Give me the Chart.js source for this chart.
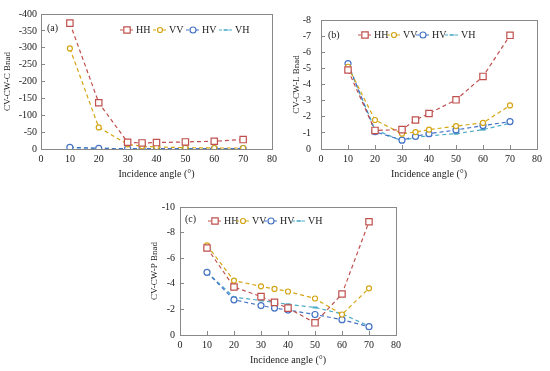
<!DOCTYPE html>
<html>
<head>
<meta charset="utf-8">
<script src="https://cdn.jsdelivr.net/npm/chart.js@4.4.0/dist/chart.umd.min.js"></script>
<style>
  body { margin: 0; background: #fff; width: 550px; height: 371px; position: relative; overflow: hidden; }
  canvas { position: absolute; }
</style>
</head>
<body>
<canvas id="chart-a" width="285" height="185" style="left:0;top:0"></canvas>
<canvas id="chart-b" width="270" height="185" style="left:280px;top:0"></canvas>
<canvas id="chart-c" width="270" height="186" style="left:140px;top:185px"></canvas>
<script>
// data
const angles = [10, 20, 30, 35, 40, 50, 60, 70]
const polarizations = ['HH', 'VV', 'HV', 'VH']
const xTicks = [0, 10, 20, 30, 40, 50, 60, 70, 80]

const cBandHH = [-373, -137, -20, -18, -19, -21, -23, -28]
const cBandVV = [-298, -64, -14, -8, -6, -4, -3, -3]
const cBandHV = [-5, -2, -1, -1, -1, -1, -1, -1]
const cBandVH = [-4, -2, -1, -1, -1, -1, -1, -1]

const lBandHH = [-4.9, -1.15, -1.2, -1.8, -2.2, -3.05, -4.5, -7.05]
const lBandVV = [-5.1, -1.8, -0.95, -1.05, -1.2, -1.42, -1.62, -2.7]
const lBandHV = [-5.3, -1.07, -0.55, -0.78, -0.95, -1.18, -1.45, -1.7]
const lBandVH = [-5.2, -1.2, -0.5, -0.72, -0.82, -0.95, -1.2, -1.6]

const pBandHH = [-6.8, -3.75, -3.0, -2.55, -2.1, -0.95, -3.2, -8.85]
const pBandVV = [-7.0, -4.25, -3.8, -3.6, -3.4, -2.85, -1.6, -3.65]
const pBandHV = [-4.9, -2.75, -2.3, -2.1, -1.95, -1.6, -1.2, -0.65]
const pBandVH = [-4.9, -2.95, -2.7, -2.55, -2.4, -2.15, -1.65, -0.7]

// styles
const serif = "'Liberation Serif', 'Times New Roman', serif"
const lineColors = ['#c0504d', '#d4a514', '#4472c4', '#4bacc6']
const markerStyles = ['rect', 'circle', 'circle', 'line']
const markerRadius = [4.5, 2.5, 3, 2.5]

// draws the box, the panel tag and the legend inside the plot area
const panelDecor = {
  id: 'panelDecor',
  afterDraw(chart, args, opts) {
    const { ctx, chartArea } = chart
    ctx.save()
    ctx.strokeStyle = '#888'
    ctx.lineWidth = 1
    ctx.strokeRect(Math.round(chartArea.left) + 0.5, Math.round(chartArea.top) + 0.5,
      Math.round(chartArea.right - chartArea.left), Math.round(chartArea.bottom - chartArea.top))

    ctx.font = `10px ${serif}`
    ctx.fillStyle = '#222'
    ctx.textBaseline = 'middle'
    ctx.fillText(opts.tag, chartArea.left + opts.tagX, chartArea.top + opts.tagY)

    chart.data.datasets.forEach((ds, i) => {
      const x = chartArea.left + opts.legendX + i * opts.legendStep
      const y = chartArea.top + opts.legendY
      ctx.strokeStyle = ds.borderColor
      ctx.lineWidth = 1.2
      ctx.setLineDash([3, 2])
      ctx.beginPath()
      ctx.moveTo(x, y)
      ctx.lineTo(x + 14, y)
      ctx.stroke()
      ctx.setLineDash([])
      ctx.fillStyle = '#fff'
      Chart.helpers.drawPoint(ctx, { pointStyle: ds.pointStyle, radius: ds.pointRadius, rotation: 0, borderWidth: ds.pointBorderWidth }, x + 7, y)
      ctx.fillStyle = '#222'
      ctx.fillText(ds.label, x + 16, y)
    })
    ctx.restore()
  },
}

printPanel('#chart-a', {
  series: [cBandHH, cBandVV, cBandHV, cBandVH],
  yTitle: 'CV-CW-C Bnad', yMin: -400, yStep: 50,
  left: 41, top: 8, right: 9, xHeight: 36, yTitlePad: 2, yTickPad: 8,
  tag: '(a)', tagX: 6, tagY: 14, legendX: 79, legendStep: 33, legendY: 16,
})
printPanel('#chart-b', {
  series: [lBandHH, lBandVV, lBandHV, lBandVH],
  yTitle: 'CV-CW-L Bnad', yMin: -8, yStep: 1,
  left: 41, top: 7, right: 8, xHeight: 36, yTitlePad: 11, yTickPad: 14,
  tag: '(b)', tagX: 7, tagY: 15, legendX: 37, legendStep: 29, legendY: 15,
})
printPanel('#chart-c', {
  series: [pBandHH, pBandVV, pBandHV, pBandVH],
  yTitle: 'CV-CW-P Bnad', yMin: -10, yStep: 2,
  left: 40, top: 22, right: 14, xHeight: 36, yTitlePad: 9, yTickPad: 9,
  tag: '(c)', tagX: 5, tagY: 12, legendX: 28, legendStep: 28, legendY: 14,
})

function printPanel(selector, cfg) {
  const ctx = document.querySelector(selector)
  return new Chart(ctx, {
    type: 'line',
    data: {
      datasets: cfg.series.map((values, i) => ({
        label: polarizations[i],
        data: angles.map((a, j) => ({ x: a, y: values[j] })),
        borderColor: lineColors[i],
        backgroundColor: lineColors[i],
        borderWidth: 1.2,
        borderDash: [4, 3],
        pointStyle: markerStyles[i],
        pointRadius: markerRadius[i],
        pointBorderColor: lineColors[i],
        pointBackgroundColor: '#fff',
        pointBorderWidth: i === 3 ? 2 : 1.2,
        fill: false,
        tension: 0,
      })),
    },
    options: {
      responsive: false,
      animation: false,
      layout: { padding: { top: cfg.top, right: cfg.right, left: 0, bottom: 0 } },
      plugins: {
        legend: { display: false },
        tooltip: { enabled: false },
        panelDecor: cfg,
      },
      scales: {
        x: {
          type: 'linear',
          min: 0,
          max: 80,
          afterBuildTicks: (scale) => { scale.ticks = xTicks.map((v) => ({ value: v })) },
          afterFit: (scale) => { scale.height = cfg.xHeight },
          ticks: { font: { family: serif, size: 10 }, color: '#222', padding: 8, maxRotation: 0 },
          grid: { drawOnChartArea: false, tickLength: -4, color: '#888' },
          border: { color: '#888' },
          title: { display: true, text: 'Incidence angle (°)', font: { family: serif, size: 10 }, color: '#222', padding: { top: 0, bottom: 5 } },
        },
        y: {
          min: cfg.yMin,
          max: 0,
          reverse: true,
          afterFit: (scale) => { scale.width = cfg.left },
          ticks: { stepSize: cfg.yStep, font: { family: serif, size: 10 }, color: '#222', padding: cfg.yTickPad },
          grid: { drawOnChartArea: false, tickLength: -4, color: '#888' },
          border: { color: '#888' },
          title: { display: true, text: cfg.yTitle, font: { family: serif, size: 9 }, color: '#222', padding: { top: cfg.yTitlePad, bottom: 0 } },
        },
      },
    },
    plugins: [panelDecor],
  })
}
</script>
</body>
</html>
